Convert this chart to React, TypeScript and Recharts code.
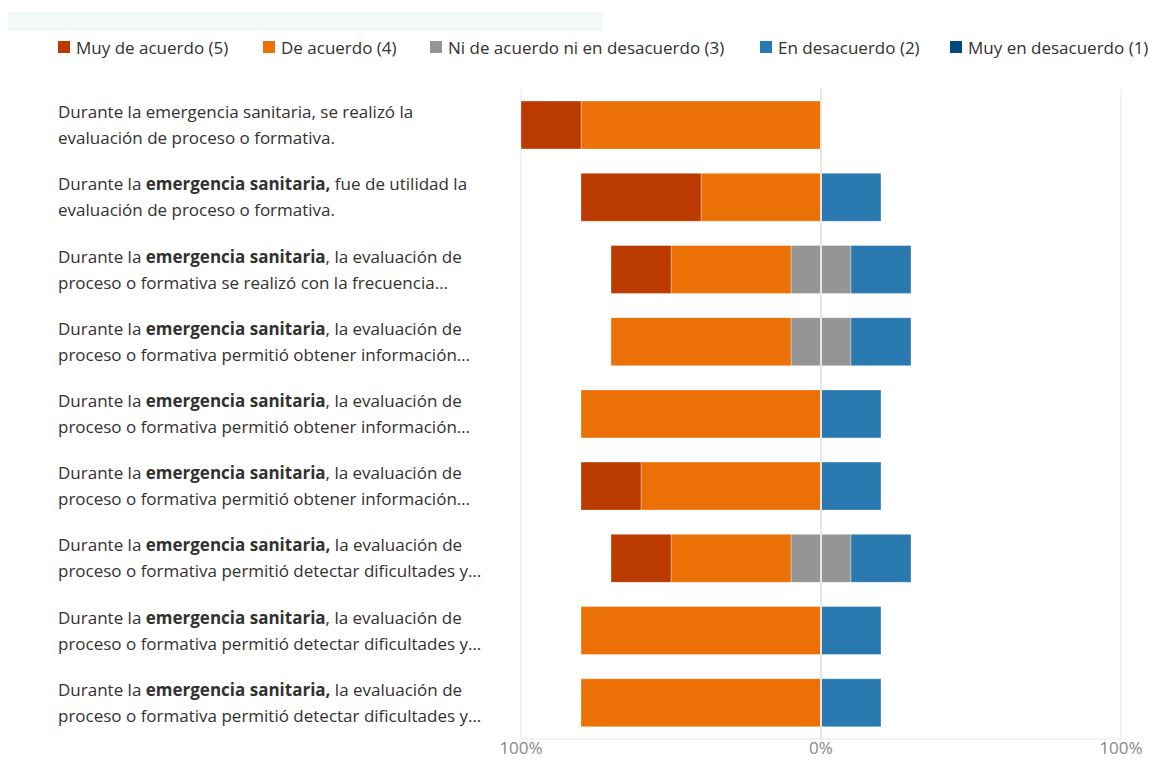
import React from "react";
import { BarChart, Bar, XAxis, YAxis, CartesianGrid, ReferenceLine } from "recharts";

// ---- data ----
const questionLine1: string[][] = [
  ["Durante la emergencia sanitaria, se realizó la"],
  ["Durante la ", "emergencia sanitaria,", " fue de utilidad la"],
  ["Durante la ", "emergencia sanitaria", ", la evaluación de"],
  ["Durante la ", "emergencia sanitaria", ", la evaluación de"],
  ["Durante la ", "emergencia sanitaria", ", la evaluación de"],
  ["Durante la ", "emergencia sanitaria", ", la evaluación de"],
  ["Durante la ", "emergencia sanitaria,", " la evaluación de"],
  ["Durante la ", "emergencia sanitaria", ", la evaluación de"],
  ["Durante la ", "emergencia sanitaria,", " la evaluación de"],
];
const questionLine2: string[] = [
  "evaluación de proceso o formativa.",
  "evaluación de proceso o formativa.",
  "proceso o formativa se realizó con la frecuencia…",
  "proceso o formativa permitió obtener información…",
  "proceso o formativa permitió obtener información…",
  "proceso o formativa permitió obtener información…",
  "proceso o formativa permitió detectar dificultades y…",
  "proceso o formativa permitió detectar dificultades y…",
  "proceso o formativa permitió detectar dificultades y…",
];

const muyDeAcuerdo = [20, 40, 20, 0, 0, 20, 20, 0, 0];
const deAcuerdo = [80, 40, 40, 60, 80, 60, 40, 80, 80];
const niNi = [0, 0, 20, 20, 0, 0, 20, 0, 0];
const enDesacuerdo = [0, 20, 20, 20, 20, 20, 20, 20, 20];
const muyEnDesacuerdo = [0, 0, 0, 0, 0, 0, 0, 0, 0];

const seriesNames = [
  "Muy de acuerdo (5)",
  "De acuerdo (4)",
  "Ni de acuerdo ni en desacuerdo (3)",
  "En desacuerdo (2)",
  "Muy en desacuerdo (1)",
];
const seriesColors = ["#BA3A00", "#EB7005", "#959595", "#2A78B0", "#004A80"];
const xTicks = [-100, 0, 100];

const rows = questionLine2.map((_, i) => ({
  idx: i,
  niNeg: -niNi[i] / 2,
  de: -deAcuerdo[i],
  muyDe: -muyDeAcuerdo[i],
  niPos: niNi[i] / 2,
  en: enDesacuerdo[i],
  muyEn: muyEnDesacuerdo[i],
}));

const FONT = "'Segoe UI', 'Open Sans', sans-serif";
const TEXT = "#323130";
const FS = 17;

const QuestionTick = (props: any) => {
  const { y, payload } = props;
  const i = payload.value as number;
  const segs = questionLine1[i];
  return (
    <text x={58} y={y} fontFamily={FONT} fontSize={FS} fill={TEXT} textAnchor="start">
      <tspan x={58} y={y - 13} dy="0.35em">
        {segs.map((s, k) => (
          <tspan key={k} fontWeight={segs.length === 3 && k === 1 ? 700 : 400}>
            {s}
          </tspan>
        ))}
      </tspan>
      <tspan x={58} y={y + 13} dy="0.35em">
        {questionLine2[i]}
      </tspan>
    </text>
  );
};

const legendX = [58, 263, 430, 760, 950];

export default function App() {
  const barStroke = { stroke: "#ffffff", strokeOpacity: 0.35, strokeWidth: 1 };
  return (
    <div style={{ position: "absolute", left: 0, top: 0, width: 1155, height: 760, background: "#fff", overflow: "hidden" }}>
      <div style={{ position: "absolute", left: 8, top: 12, width: 595, height: 19, background: "#F3F8F8" }} />
      {seriesNames.map((n, i) => (
        <div
          key={n}
          style={{
            position: "absolute",
            left: legendX[i],
            top: 36,
            height: 22,
            display: "flex",
            alignItems: "center",
            fontFamily: FONT,
            fontSize: FS,
            color: TEXT,
            whiteSpace: "nowrap",
          }}
        >
          <span style={{ display: "inline-block", width: 12, height: 12, background: seriesColors[i], marginRight: 6 }} />
          {n}
        </div>
      ))}
      <div style={{ position: "absolute", left: 0, top: 0 }}>
        <BarChart
          width={1155}
          height={760}
          data={rows}
          layout="vertical"
          stackOffset="sign"
          barSize={48}
          margin={{ top: 89, right: 34, left: 0, bottom: 0 }}
        >
          <CartesianGrid horizontal={false} vertical stroke="#e6e6e6" />
          <XAxis
            type="number"
            domain={[-100, 100]}
            ticks={xTicks}
            tickFormatter={(v: number) => `${Math.abs(v)}%`}
            axisLine={{ stroke: "#e6e6e6" }}
            tickLine={false}
            tickSize={0}
            tickMargin={3}
            height={21}
            tick={{ fill: "#8a8886", fontSize: FS, fontFamily: FONT }}
          />
          <YAxis
            type="category"
            dataKey="idx"
            width={521}
            axisLine={false}
            tickLine={false}
            tick={<QuestionTick />}
            interval={0}
          />
          <Bar dataKey="niNeg" stackId="s" fill={seriesColors[2]} isAnimationActive={false} {...barStroke} />
          <Bar dataKey="de" stackId="s" fill={seriesColors[1]} isAnimationActive={false} {...barStroke} />
          <Bar dataKey="muyDe" stackId="s" fill={seriesColors[0]} isAnimationActive={false} {...barStroke} />
          <Bar dataKey="niPos" stackId="s" fill={seriesColors[2]} isAnimationActive={false} {...barStroke} />
          <Bar dataKey="en" stackId="s" fill={seriesColors[3]} isAnimationActive={false} {...barStroke} />
          <Bar dataKey="muyEn" stackId="s" fill={seriesColors[4]} isAnimationActive={false} {...barStroke} />
          <ReferenceLine x={0} stroke="#e6e6e6" strokeWidth={2} />
        </BarChart>
      </div>
    </div>
  );
}
